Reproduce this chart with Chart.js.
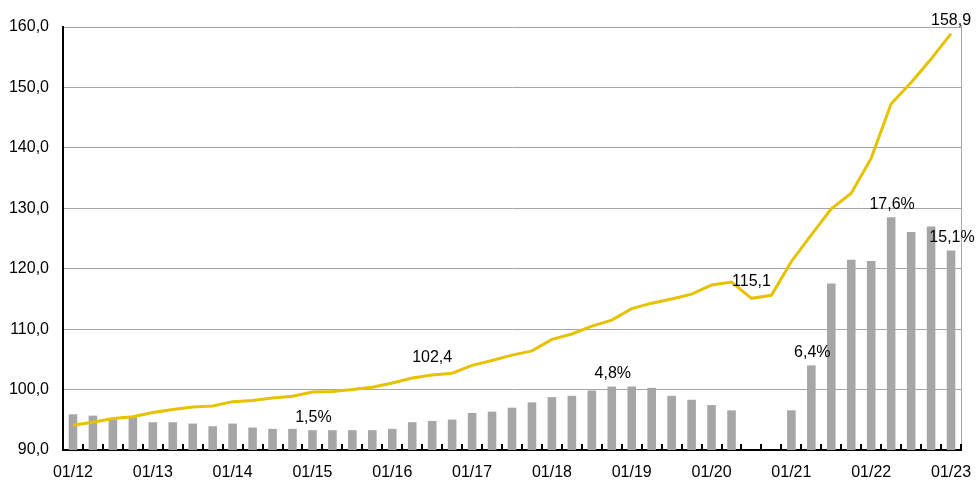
<!DOCTYPE html>
<html>
<head>
<meta charset="utf-8">
<script src="https://cdn.jsdelivr.net/npm/chart.js@4"></script>
<style>
  html, body { margin: 0; padding: 0; background: #fff; }
</style>
</head>
<body>
<canvas id="chart" width="976" height="480"></canvas>
<script>
// quarterly categories 01/12 .. 01/23
const years = ["12", "13", "14", "15", "16", "17", "18", "19", "20", "21", "22", "23"];
const months = ["01", "04", "07", "10"];
const categories = [];
years.forEach((y) => months.forEach((m) => categories.push(m + "/" + y)));
categories.length = 45;

// price index (left axis)
const indexValues = [
  94.1, 94.6, 95.2, 95.5, 96.2, 96.7, 97.1, 97.3, 98.0, 98.2, 98.6, 98.9,
  99.6, 99.7, 100.0, 100.4, 101.1, 101.9, 102.4, 102.7, 104.0, 104.8, 105.7, 106.4,
  108.3, 109.2, 110.5, 111.5, 113.4, 114.3, 115.0, 115.8, 117.3, 117.8, 115.1, 115.6,
  121.2, 125.6, 129.9, 132.5, 138.3, 147.3, 150.8, 154.7, 158.9
];

// year-on-year change in % (bars, hidden axis)
const growthValues = [
  2.7, 2.6, 2.4, 2.5, 2.1, 2.1, 2.0, 1.8, 2.0, 1.7, 1.6, 1.6,
  1.5, 1.5, 1.5, 1.5, 1.6, 2.1, 2.2, 2.3, 2.8, 2.9, 3.2, 3.6,
  4.0, 4.1, 4.5, 4.8, 4.8, 4.7, 4.1, 3.8, 3.4, 3.0, 0.0, -0.1,
  3.0, 6.4, 12.6, 14.4, 14.3, 17.6, 16.5, 16.9, 15.1
];

const yTicks = [90, 100, 110, 120, 130, 140, 150, 160];

// which points carry a value label
const indexLabelAt = [18, 34, 44];
const growthLabelAt = [12, 27, 37, 41, 44];

const fmt = (v, d) => v.toFixed(d).replace(".", ",");

const FONT = "'Liberation Sans Narrow', 'Arial Narrow', 'Liberation Sans', Arial, sans-serif";
Chart.defaults.font.family = FONT;
Chart.defaults.font.size = 16;
Chart.defaults.color = "#000";

const extras = {
  id: "extras",
  afterDatasetsDraw(chart) {
    const { ctx, chartArea, scales } = chart;
    const x = scales.x;
    ctx.save();

    // right frame line
    ctx.strokeStyle = "#a6a6a6";
    ctx.lineWidth = 1;
    ctx.beginPath();
    const rx = Math.round(chartArea.right) + 0.5;
    ctx.moveTo(rx, chartArea.top - 2);
    ctx.lineTo(rx, chartArea.bottom);
    ctx.stroke();

    // inward tick marks between the quarters
    const step = x.getPixelForValue(1) - x.getPixelForValue(0);
    ctx.strokeStyle = "#000";
    ctx.lineWidth = 2;
    ctx.beginPath();
    for (let i = 1; i <= categories.length; i++) {
      const px = Math.round(x.getPixelForValue(i) - step / 2);
      ctx.moveTo(px, chartArea.bottom);
      ctx.lineTo(px, chartArea.bottom - 6);
    }
    ctx.stroke();

    // value labels
    ctx.fillStyle = "#000";
    ctx.font = "16px " + FONT;
    ctx.textAlign = "center";
    ctx.textBaseline = "middle";

    const barMeta = chart.getDatasetMeta(1);
    growthLabelAt.forEach((i) => {
      const el = barMeta.data[i];
      ctx.fillText(fmt(growthValues[i], 1) + "%", el.x + 1, el.y - 13);
    });

    const lineMeta = chart.getDatasetMeta(0);
    indexLabelAt.forEach((i) => {
      const el = lineMeta.data[i];
      const ty = Math.max(el.y - 17, 21);
      ctx.fillText(fmt(indexValues[i], 1), el.x, ty);
    });

    ctx.restore();
  },
};

new Chart(document.getElementById("chart"), {
  type: "bar",
  data: {
    labels: categories,
    datasets: [
      {
        type: "line",
        label: "Index",
        data: indexValues,
        borderColor: "#e6c200",
        borderWidth: 3,
        pointRadius: 0,
        tension: 0,
        yAxisID: "y",
        order: 0,
      },
      {
        type: "bar",
        label: "Change",
        data: growthValues,
        backgroundColor: "#a6a6a6",
        barPercentage: 0.43,
        categoryPercentage: 1,
        yAxisID: "y2",
        order: 1,
      },
    ],
  },
  plugins: [extras],
  options: {
    responsive: false,
    animation: false,
    layout: { padding: { top: 27, right: 15, left: 0, bottom: 0 } },
    plugins: {
      legend: { display: false },
      tooltip: { enabled: false },
    },
    scales: {
      x: {
        offset: true,
        grid: { display: false, drawTicks: false },
        border: { color: "#000", width: 2 },
        ticks: {
          autoSkip: false,
          maxRotation: 0,
          padding: 13,
          callback: (v, i) => (categories[i].startsWith("01/") ? categories[i] : ""),
        },
        afterFit: (s) => {
          s.height = 30;
          s.paddingLeft = 0;
          s.paddingRight = 0;
        },
      },
      y: {
        min: yTicks[0],
        max: yTicks[yTicks.length - 1],
        afterBuildTicks: (s) => { s.ticks = yTicks.map((v) => ({ value: v })); },
        grid: { color: "#a6a6a6", lineWidth: 1, drawTicks: false },
        border: { color: "#000", width: 2 },
        ticks: { padding: 14, callback: (v) => fmt(v, 1) },
        afterFit: (s) => {
          s.width = 63;
          s.paddingTop = 0;
          s.paddingBottom = 0;
        },
      },
      y2: {
        display: false,
        min: 0,
        max: 32,
      },
    },
  },
});
</script>
</body>
</html>
